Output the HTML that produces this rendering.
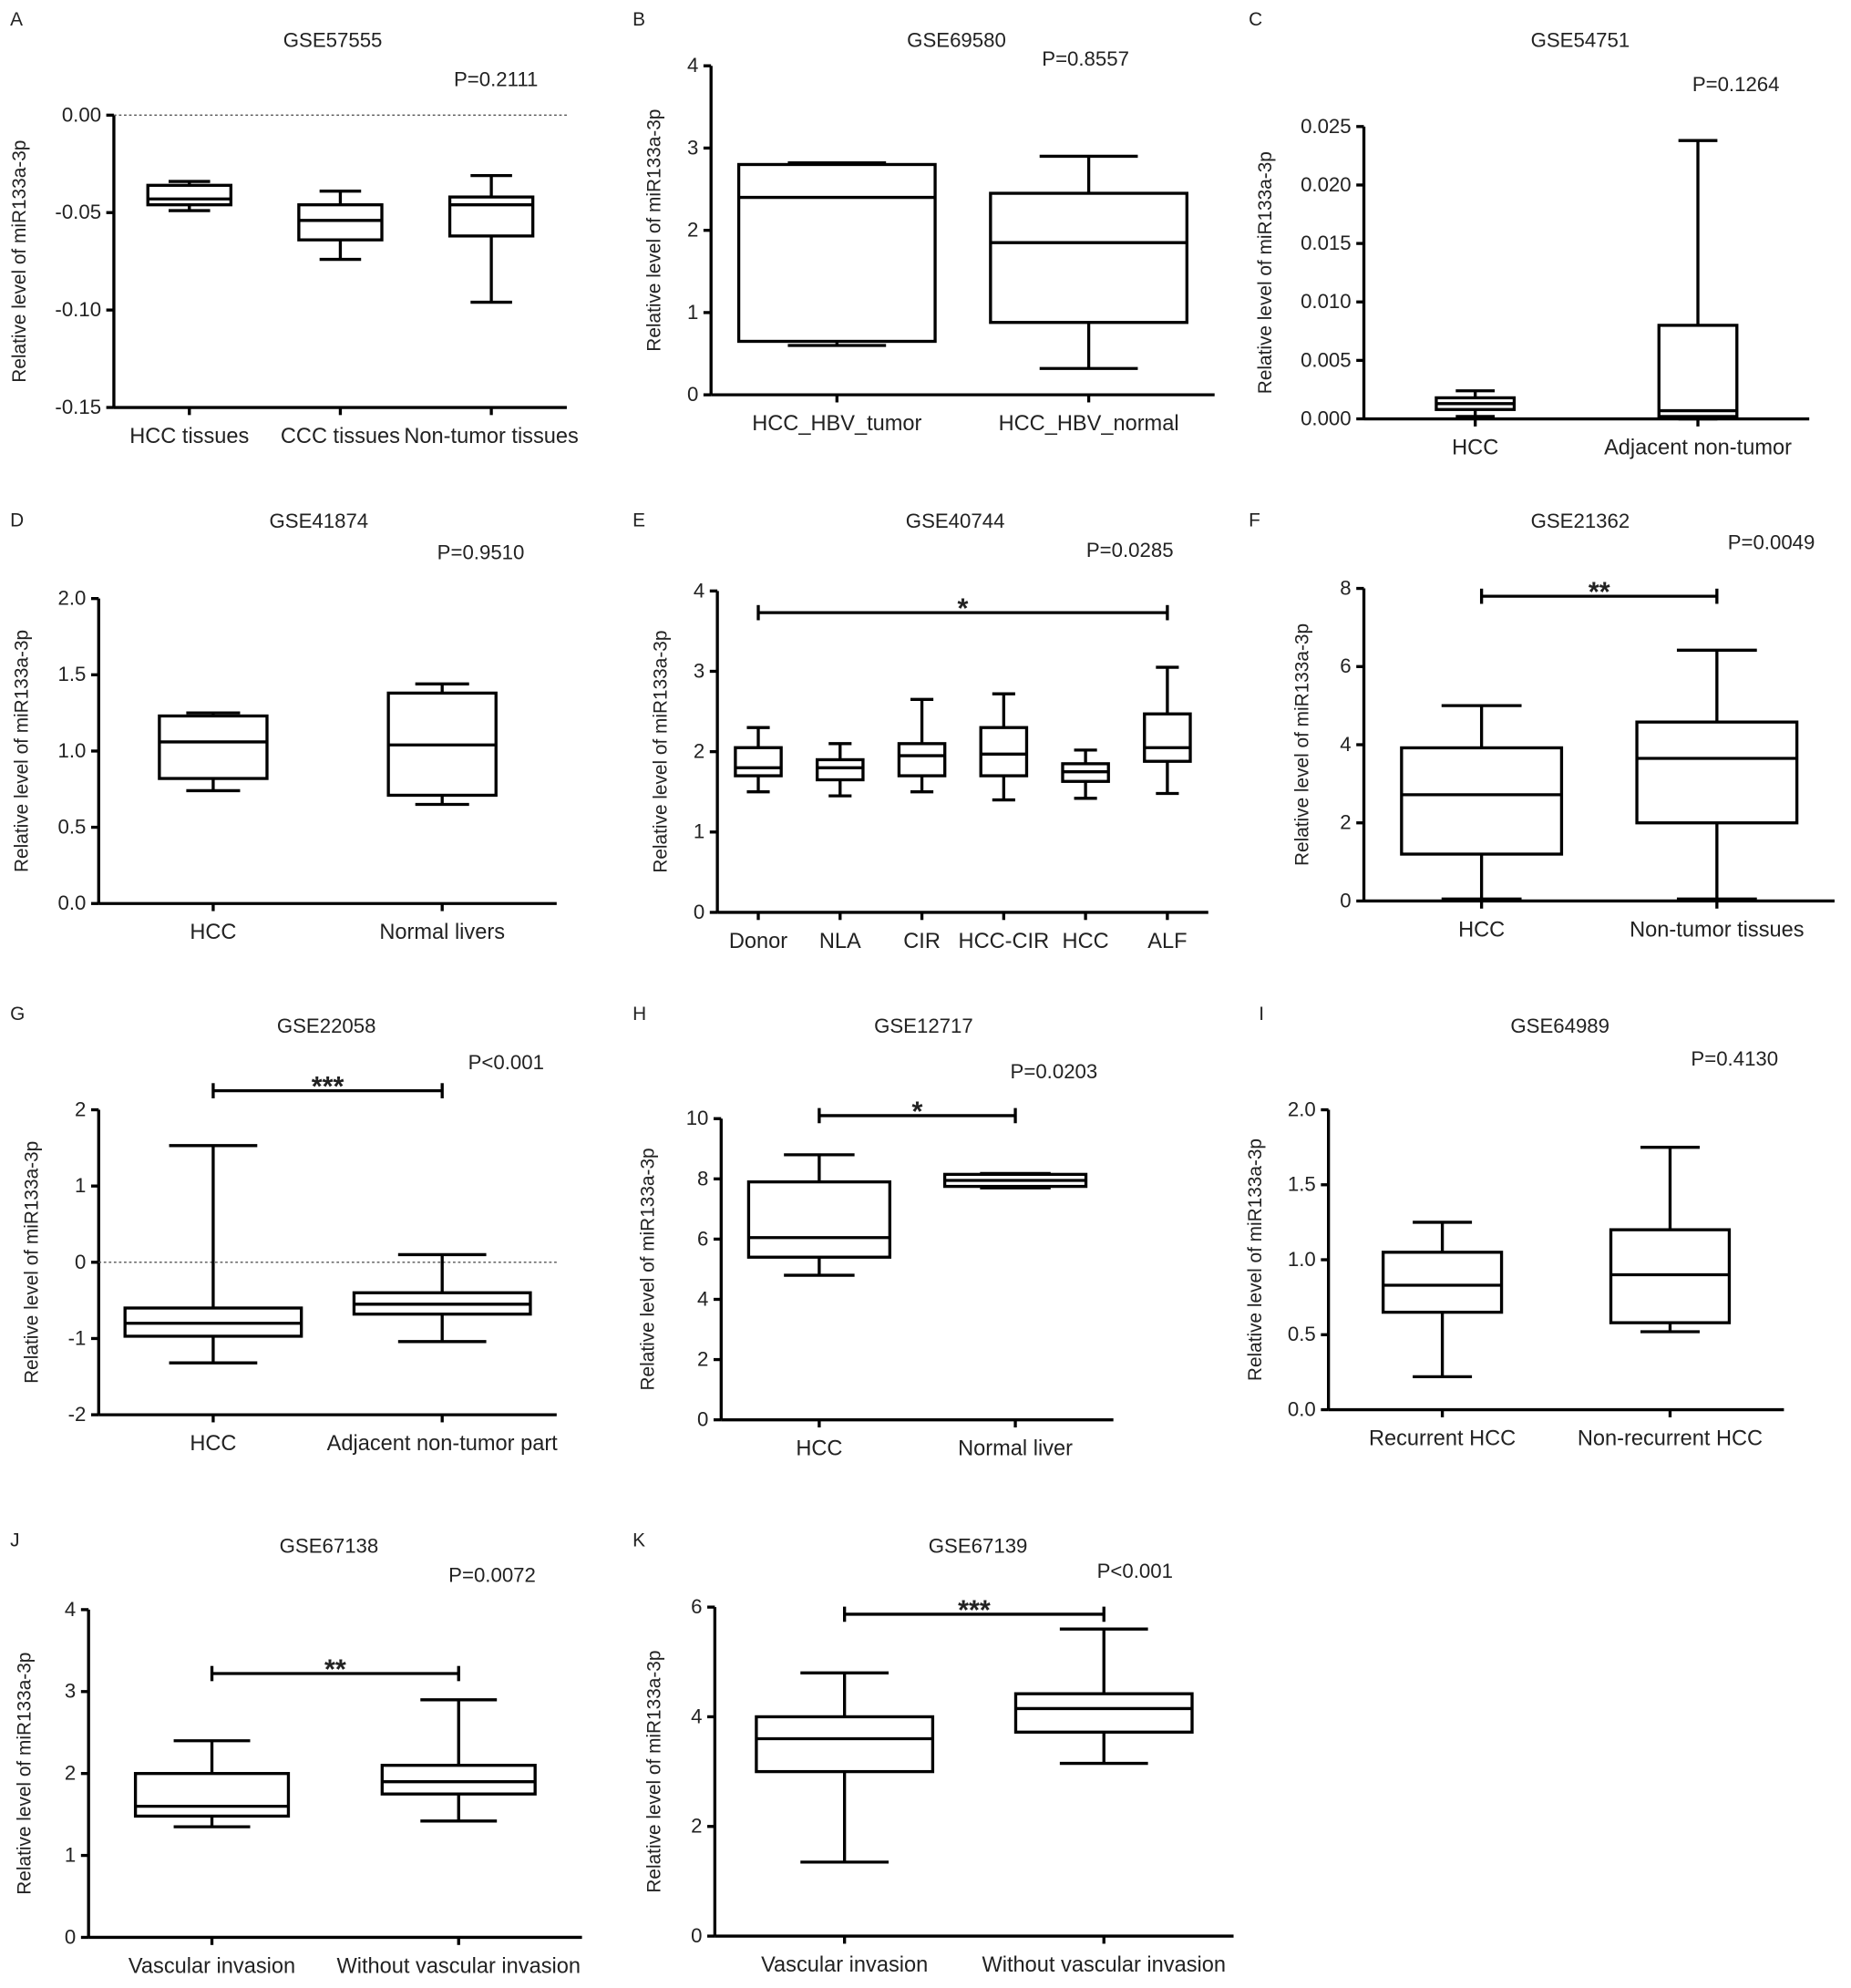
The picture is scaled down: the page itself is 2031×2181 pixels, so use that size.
<!DOCTYPE html>
<html><head><meta charset="utf-8"><style>
html,body{margin:0;padding:0;background:#fff;}
svg{display:block;font-family:"Liberation Sans",Arial,sans-serif;}
</style></head>
<body>
<svg id="fig" width="2031" height="2181" viewBox="0 0 1463 1571" preserveAspectRatio="none" xmlns="http://www.w3.org/2000/svg"></svg>
<script>
// ---- Data arrays (box stats: min, q1, median, q3, max) ----
const catsA = ["HCC tissues","CCC tissues","Non-tumor tissues"];
const boxesA = [[-0.049,-0.046,-0.043,-0.036,-0.034],[-0.074,-0.064,-0.054,-0.046,-0.039],[-0.096,-0.062,-0.046,-0.042,-0.031]];
const ticksA = [0.00,-0.05,-0.10,-0.15];
const catsB = ["HCC_HBV_tumor","HCC_HBV_normal"];
const boxesB = [[0.6,0.65,2.4,2.8,2.82],[0.32,0.88,1.85,2.45,2.9]];
const ticksB = [0,1,2,3,4];
const catsC = ["HCC","Adjacent non-tumor"];
const boxesC = [[0.0002,0.0008,0.0013,0.0018,0.0024],[0,0.0002,0.0007,0.008,0.0238]];
const ticksC = [0,0.005,0.010,0.015,0.020,0.025];
const catsD = ["HCC","Normal livers"];
const boxesD = [[0.74,0.82,1.06,1.23,1.25],[0.65,0.71,1.04,1.38,1.44]];
const ticksD = [0,0.5,1.0,1.5,2.0];
const catsE = ["Donor","NLA","CIR","HCC-CIR","HCC","ALF"];
const boxesE = [[1.5,1.7,1.8,2.05,2.3],[1.45,1.65,1.8,1.9,2.1],[1.5,1.7,1.95,2.1,2.65],[1.4,1.7,1.97,2.3,2.72],[1.42,1.63,1.75,1.85,2.02],[1.48,1.88,2.05,2.47,3.05]];
const ticksE = [0,1,2,3,4];
const catsF = ["HCC","Non-tumor tissues"];
const boxesF = [[0.05,1.2,2.72,3.92,5.0],[0.05,2.0,3.65,4.58,6.42]];
const ticksF = [0,2,4,6,8];
const catsG = ["HCC","Adjacent non-tumor part"];
const boxesG = [[-1.32,-0.97,-0.8,-0.6,1.53],[-1.04,-0.68,-0.55,-0.4,0.1]];
const ticksG = [-2,-1,0,1,2];
const catsH = ["HCC","Normal liver"];
const boxesH = [[4.8,5.4,6.05,7.9,8.8],[7.7,7.75,7.95,8.15,8.18]];
const ticksH = [0,2,4,6,8,10];
const catsI = ["Recurrent HCC","Non-recurrent HCC"];
const boxesI = [[0.22,0.65,0.83,1.05,1.25],[0.52,0.58,0.9,1.2,1.75]];
const ticksI = [0,0.5,1.0,1.5,2.0];
const catsJ = ["Vascular invasion","Without vascular invasion"];
const boxesJ = [[1.35,1.48,1.6,2.0,2.4],[1.42,1.75,1.9,2.1,2.9]];
const ticksJ = [0,1,2,3,4];
const catsK = ["Vascular invasion","Without vascular invasion"];
const boxesK = [[1.35,3.0,3.6,4.0,4.8],[3.15,3.72,4.15,4.42,5.6]];
const ticksK = [0,2,4,6];

const svg = document.getElementById('fig');
const NS = "http://www.w3.org/2000/svg";
function mk(tag, attrs, parent, text){
  const e = document.createElementNS(NS, tag);
  for (const k in attrs) e.setAttribute(k, attrs[k]);
  if (text !== undefined) e.textContent = text;
  parent.appendChild(e);
  return e;
}

function panel(p){
  const g = mk('g', {}, svg);
  
  
  const y = v => p.yb + (v - p.dmin) / (p.dmax - p.dmin) * (p.yt - p.yb);
  const band = (p.x1 - p.x0) / p.cats.length;
  const cx = i => p.x0 + (i + 0.5) * band;
  const st = {stroke:'#000','stroke-width':2.4,fill:'none'};
  const L = mk('text', {x:p.lx, y:p.ly, 'font-size':15, fill:'#222'}, g, p.letter);
  
  
  const T = mk('text', {x:p.tx, y:p.ty, 'font-size':16, 'text-anchor':'middle', fill:'#222'}, g, p.title);
  
  
  const P = mk('text', {x:p.px, y:p.py, 'font-size':16, 'text-anchor':'middle', fill:'#222'}, g, p.pval);
  
  
  const ya = mk('line', Object.assign({x1:p.x0, x2:p.x0, y1:y(p.dmin), y2:y(p.dmax)}, st), g);
  
  
  const xa = mk('line', Object.assign({x1:p.x0, x2:p.x1, y1:p.yb, y2:p.yb}, st), g);
  
  
  p.ticks.forEach(t => {
    mk('line', Object.assign({x1:p.x0-6, x2:p.x0, y1:y(t), y2:y(t)}, st), g);
    const tl = mk('text', {x:p.x0-10, y:y(t)+5, 'font-size':16, 'text-anchor':'end', fill:'#222'}, g, t.toFixed(p.dec));
    
    
  });
  const yl = mk('text', {x:0, y:0, 'font-size':15, 'text-anchor':'middle', fill:'#222',
    transform:`translate(${p.ylx},${(p.yt+p.yb)/2}) rotate(-90)`}, g, 'Relative level of miR133a-3p');
  
  
  if (p.dotted) {
    const dl = mk('line', {x1:p.x0, x2:p.x1, y1:y(0), y2:y(0), stroke:'#555','stroke-width':1,'stroke-dasharray':'2,2'}, g);
    
    
  }
  p.cats.forEach((c, i) => {
    const x = cx(i);
    mk('line', Object.assign({x1:x, x2:x, y1:p.yb, y2:p.yb+6}, st), g);
    const cl = mk('text', {x:x, y:p.yb+28, 'font-size':17, 'text-anchor':'middle', fill:'#222'}, g, c);
    
    
    const b = p.boxes[i];
    const bw = band * p.bwf, cw = bw * 0.5;
    const bg = mk('g', {}, g);
    
    
    mk('line', Object.assign({x1:x, x2:x, y1:y(b[0]), y2:y(b[1])}, st), bg);
    mk('line', Object.assign({x1:x, x2:x, y1:y(b[3]), y2:y(b[4])}, st), bg);
    mk('line', Object.assign({x1:x-cw/2, x2:x+cw/2, y1:y(b[0]), y2:y(b[0])}, st), bg);
    mk('line', Object.assign({x1:x-cw/2, x2:x+cw/2, y1:y(b[4]), y2:y(b[4])}, st), bg);
    mk('rect', Object.assign({x:x-bw/2, y:y(b[3]), width:bw, height:Math.max(0.5, y(b[1])-y(b[3]))}, st), bg);
    mk('line', Object.assign({x1:x-bw/2, x2:x+bw/2, y1:y(b[2]), y2:y(b[2])}, st), bg);
  });
  if (p.sig) {
    const sy = y(p.sig.v), xa1 = cx(p.sig.a), xb1 = cx(p.sig.b);
    const sg = mk('g', {}, g);
    
    
    mk('line', Object.assign({x1:xa1, x2:xb1, y1:sy, y2:sy}, st), sg);
    mk('line', Object.assign({x1:xa1, x2:xa1, y1:sy-6, y2:sy+6}, st), sg);
    mk('line', Object.assign({x1:xb1, x2:xb1, y1:sy-6, y2:sy+6}, st), sg);
    mk('text', {x:(xa1+xb1)/2, y:sy+4, 'font-size':22, 'font-weight':'bold', 'text-anchor':'middle', fill:'#222'}, sg, p.sig.s);
  }
}

panel({letter:'A',lx:8,ly:20,title:'GSE57555',tx:263,ty:37,pval:'P=0.2111',px:392,py:68,x0:90,x1:448,yt:91,yb:322,dmin:-0.15,dmax:0,ticks:ticksA,dec:2,cats:catsA,boxes:boxesA,bwf:0.55,ylx:20,dotted:true});
panel({letter:'B',lx:500,ly:20,title:'GSE69580',tx:756,ty:37,pval:'P=0.8557',px:858,py:52,x0:562,x1:960,yt:52,yb:312,dmin:0,dmax:4,ticks:ticksB,dec:0,cats:catsB,boxes:boxesB,bwf:0.78,ylx:522});
panel({letter:'C',lx:987,ly:20,title:'GSE54751',tx:1249,ty:37,pval:'P=0.1264',px:1372,py:72,x0:1078,x1:1430,yt:100,yb:331,dmin:0,dmax:0.025,ticks:ticksC,dec:3,cats:catsC,boxes:boxesC,bwf:0.35,ylx:1005});
panel({letter:'D',lx:8,ly:416,title:'GSE41874',tx:252,ty:417,pval:'P=0.9510',px:380,py:442,x0:78,x1:440,yt:473,yb:714,dmin:0,dmax:2,ticks:ticksD,dec:1,cats:catsD,boxes:boxesD,bwf:0.47,ylx:22});
panel({letter:'E',lx:500,ly:416,title:'GSE40744',tx:755,ty:417,pval:'P=0.0285',px:893,py:440,x0:567,x1:955,yt:467,yb:721,dmin:0,dmax:4,ticks:ticksE,dec:0,cats:catsE,boxes:boxesE,bwf:0.56,ylx:527,sig:{a:0,b:5,v:3.73,s:'*'}});
panel({letter:'F',lx:987,ly:416,title:'GSE21362',tx:1249,ty:417,pval:'P=0.0049',px:1400,py:434,x0:1078,x1:1450,yt:465,yb:712,dmin:0,dmax:8,ticks:ticksF,dec:0,cats:catsF,boxes:boxesF,bwf:0.68,ylx:1034,sig:{a:0,b:1,v:7.8,s:'**'}});
panel({letter:'G',lx:8,ly:806,title:'GSE22058',tx:258,ty:816,pval:'P<0.001',px:400,py:845,x0:78,x1:440,yt:877,yb:1118,dmin:-2,dmax:2,ticks:ticksG,dec:0,cats:catsG,boxes:boxesG,bwf:0.77,ylx:30,dotted:true,sig:{a:0,b:1,v:2.25,s:'***'}});
panel({letter:'H',lx:500,ly:806,title:'GSE12717',tx:730,ty:816,pval:'P=0.0203',px:833,py:852,x0:570,x1:880,yt:884,yb:1122,dmin:0,dmax:10,ticks:ticksH,dec:0,cats:catsH,boxes:boxesH,bwf:0.72,ylx:517,sig:{a:0,b:1,v:10.1,s:'*'}});
panel({letter:'I',lx:995,ly:806,title:'GSE64989',tx:1233,ty:816,pval:'P=0.4130',px:1371,py:842,x0:1050,x1:1410,yt:877,yb:1114,dmin:0,dmax:2,ticks:ticksI,dec:1,cats:catsI,boxes:boxesI,bwf:0.52,ylx:997});
panel({letter:'J',lx:8,ly:1222,title:'GSE67138',tx:260,ty:1227,pval:'P=0.0072',px:389,py:1250,x0:70,x1:460,yt:1272,yb:1531,dmin:0,dmax:4,ticks:ticksJ,dec:0,cats:catsJ,boxes:boxesJ,bwf:0.62,ylx:24,sig:{a:0,b:1,v:3.22,s:'**'}});
panel({letter:'K',lx:500,ly:1222,title:'GSE67139',tx:773,ty:1227,pval:'P<0.001',px:897,py:1247,x0:565,x1:975,yt:1270,yb:1530,dmin:0,dmax:6,ticks:ticksK,dec:0,cats:catsK,boxes:boxesK,bwf:0.68,ylx:522,sig:{a:0,b:1,v:5.87,s:'***'}});
</script>
</body></html>
